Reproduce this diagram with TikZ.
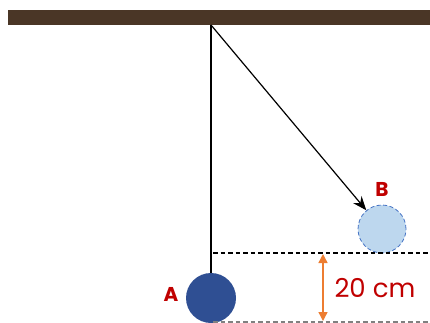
\documentclass[tikz,border=0pt]{standalone}
\usepackage{fontspec}
\setsansfont{Poppins}
\usetikzlibrary{arrows.meta}
\definecolor{wood}{HTML}{4A3626}
\definecolor{balldark}{HTML}{2F4F93}
\definecolor{balllight}{HTML}{BDD7EE}
\definecolor{balledge}{HTML}{4472C4}
\definecolor{labred}{HTML}{C00000}
\definecolor{measure}{HTML}{ED7D31}
\begin{document}
\begin{tikzpicture}[x=1pt,y=-1pt,font=\sffamily,
  lab/.style={text=labred,font=\sffamily\bfseries\fontsize{20}{20}\selectfont},
  level/.style={dash pattern=on 4.5pt off 3pt,line width=1.1pt}]
\useasboundingbox (0,0) rectangle (430,323);
\fill[wood] (8,10) rectangle (430,25);
\coordinate (pivot) at (211,25);
\node[circle,fill=balldark,minimum size=50pt,inner sep=0] (A) at (211,298) {};
\node[circle,fill=balllight,draw=balledge,dash pattern=on 4pt off 2.5pt,thick,minimum size=48pt,inner sep=0] (B) at (382,229) {};
\draw[line width=1.2pt] (pivot) -- (A);
\draw[line width=1.2pt,-{Stealth[length=14pt,width=11pt]}] (pivot) -- (B);
\node[lab] at (171,294) {A};
\node[lab] at (382,189) {B};
\draw[level] (213,253) -- (430,253);
\draw[level,gray] (213,322) -- (430,322);
\draw[measure,line width=1.4pt,{Triangle[length=9pt,width=9pt]}-{Triangle[length=9pt,width=9pt]}] (323,254) -- (323,321);
\node[text=labred,font=\sffamily\fontsize{26}{26}\selectfont,anchor=west] at (331,288) {20 cm};
\end{tikzpicture}
\end{document}
